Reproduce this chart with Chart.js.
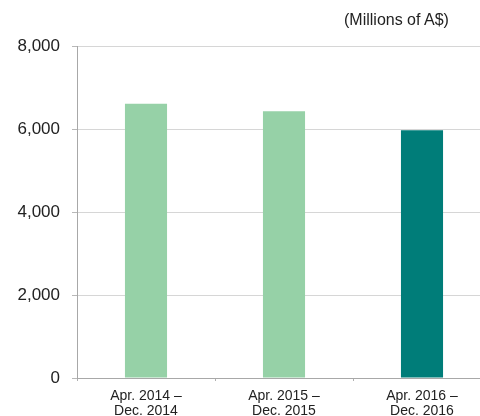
<!DOCTYPE html>
<html>
<head>
<meta charset="utf-8">
<script src="https://cdn.jsdelivr.net/npm/chart.js@4/dist/chart.umd.min.js"></script>
<style>
  html, body { margin: 0; padding: 0; background: #fff; overflow: hidden; }
  #wrap { position: relative; width: 491px; height: 416px; }
  #unit { position: absolute; top: 11px; left: 344px; font: 16px "Liberation Sans", Arial, sans-serif; color: #222; white-space: nowrap; }
</style>
</head>
<body>
<div id="wrap">
  <canvas id="c"></canvas>
  <div id="unit">(Millions of A$)</div>
</div>
<script>
// Periods (two-line labels)
const periods = [
  ["Apr. 2014 \u2013", "Dec. 2014"],
  ["Apr. 2015 \u2013", "Dec. 2015"],
  ["Apr. 2016 \u2013", "Dec. 2016"]
];
// Values in millions of A$
const values = [6610, 6430, 5970];
const barColors = ["#96d1a7", "#96d1a7", "#007d79"];
const yTicks = [0, 2000, 4000, 6000, 8000];

const FONT = '"Liberation Sans", Arial, sans-serif';

new Chart(document.getElementById("c"), {
  type: "bar",
  data: {
    labels: periods,
    datasets: [{
      data: values,
      backgroundColor: barColors,
      borderWidth: 0,
      categoryPercentage: 1,
      barPercentage: 0.305
    }]
  },
  options: {
    responsive: true,
    maintainAspectRatio: false,
    animation: false,
    layout: { padding: { top: 46, left: 0, right: 0, bottom: 0 } },
    plugins: { legend: { display: false }, tooltip: { enabled: false } },
    scales: {
      x: {
        grid: { offset: true, drawOnChartArea: false, tickLength: 3, color: "#b0b0b0" },
        border: { color: "#a8a8a8", width: 1 },
        ticks: { color: "#222", font: { family: FONT, size: 14, lineHeight: 1.07 }, padding: 8, maxRotation: 0 },
        afterFit: s => { s.height = 38; }
      },
      y: {
        min: 0, max: 8000,
        afterBuildTicks: s => { s.ticks = yTicks.map(v => ({ value: v })); },
        grid: { color: "#d6d6d6", tickLength: 5, tickColor: "#b8b8b8" },
        border: { color: "#a8a8a8", width: 1 },
        ticks: { color: "#222", font: { family: FONT, size: 17 }, padding: 12 },
        afterFit: s => { s.width = 77; }
      }
    }
  }
});
</script>
</body>
</html>
